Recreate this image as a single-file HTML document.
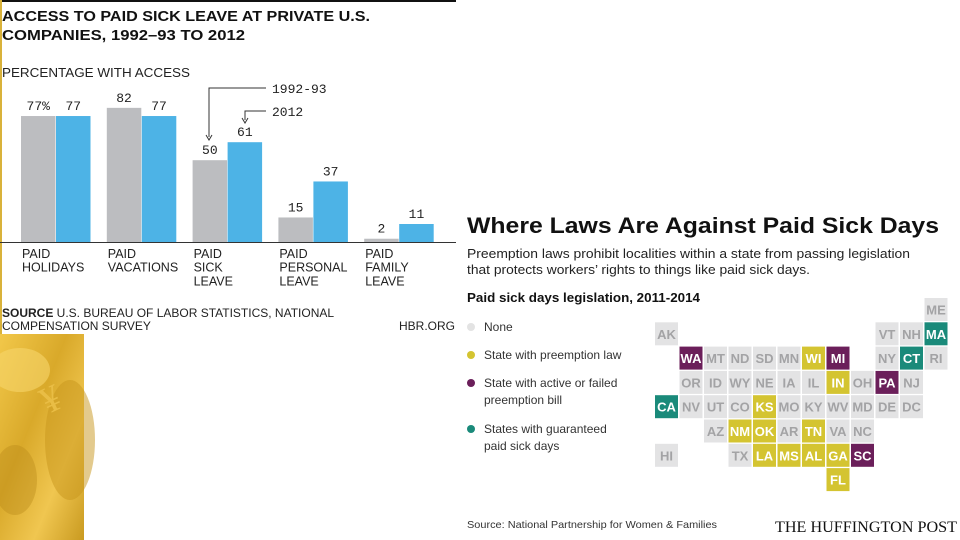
<!DOCTYPE html>
<html><head><meta charset="utf-8">
<style>
html,body{margin:0;padding:0;background:#fff;}
svg{display:block;font-family:"Liberation Sans",sans-serif;}
</style></head>
<body>
<svg id="root" width="960" height="540" viewBox="0 0 960 540">
  <defs>
    <linearGradient id="gold" x1="0" y1="0" x2="1" y2="1">
      <stop offset="0" stop-color="#f2c84a"/>
      <stop offset="0.4" stop-color="#d9a92a"/>
      <stop offset="0.7" stop-color="#f0c650"/>
      <stop offset="1" stop-color="#c99a20"/>
    </linearGradient>
  </defs>
  <!-- left chart -->
  <g>
    <rect x="0" y="0" width="456" height="2" fill="#111"/>
    <rect x="0" y="0" width="2" height="334" fill="#d9b23a"/>
    <text x="2" y="21" font-size="14.5" font-weight="bold" fill="#111" textLength="368" lengthAdjust="spacingAndGlyphs">ACCESS TO PAID SICK LEAVE AT PRIVATE U.S.</text>
    <text x="2" y="40" font-size="14.5" font-weight="bold" fill="#111" textLength="243" lengthAdjust="spacingAndGlyphs">COMPANIES, 1992–93 TO 2012</text>
    <text x="2" y="77" font-size="12.5" fill="#222" textLength="188" lengthAdjust="spacingAndGlyphs">PERCENTAGE WITH ACCESS</text>
    <g id="bars"></g>
    <line x1="0" y1="242.5" x2="456" y2="242.5" stroke="#333" stroke-width="1"/>
    <g id="cats"></g>
    <g fill="none" stroke="#333" stroke-width="1">
      <polyline points="266,88 209,88 209,137"/>
      <polyline points="266,111 245,111 245,120"/>
    </g>
    <path d="M206,135 L209,140 L212,135" fill="none" stroke="#333"/>
    <path d="M242,118 L245,123 L248,118" fill="none" stroke="#333"/>
    <text x="272" y="93" font-family="Liberation Mono,monospace" font-size="13" fill="#222">1992-93</text>
    <text x="272" y="116" font-family="Liberation Mono,monospace" font-size="13" fill="#222">2012</text>
    <text x="2" y="317" font-size="12" fill="#222"><tspan font-weight="bold">SOURCE</tspan> U.S. BUREAU OF LABOR STATISTICS, NATIONAL</text>
    <text x="2" y="330" font-size="12" fill="#222">COMPENSATION SURVEY</text>
    <text x="455" y="330" font-size="12" fill="#222" text-anchor="end">HBR.ORG</text>
  </g>
  <!-- gold image -->
  <g>
    <rect x="0" y="334" width="84" height="206" fill="url(#gold)"/>
    <ellipse cx="20" cy="370" rx="30" ry="22" fill="#f7d56a" opacity="0.6"/>
    <ellipse cx="70" cy="440" rx="25" ry="60" fill="#c8961c" opacity="0.5"/>
    <ellipse cx="15" cy="480" rx="22" ry="35" fill="#b98a18" opacity="0.4"/>
    <text x="42" y="410" font-size="38" fill="#e9bd45" font-family="Liberation Serif,serif" transform="rotate(-25 55 400)">¥</text>
  </g>
  <!-- right infographic -->
  <g>
    <text x="467" y="233" font-size="22" font-weight="bold" fill="#111" textLength="472" lengthAdjust="spacingAndGlyphs">Where Laws Are Against Paid Sick Days</text>
    <text x="467" y="258" font-size="13" fill="#222" textLength="443" lengthAdjust="spacingAndGlyphs">Preemption laws prohibit localities within a state from passing legislation</text>
    <text x="467" y="274" font-size="13" fill="#222" textLength="343" lengthAdjust="spacingAndGlyphs">that protects workers’ rights to things like paid sick days.</text>
    <text x="467" y="302" font-size="12.5" font-weight="bold" fill="#111" textLength="233" lengthAdjust="spacingAndGlyphs">Paid sick days legislation, 2011-2014</text>
    <g><circle cx="471" cy="327" r="4" fill="#e3e3e3"/><text x="484" y="331" font-size="12" fill="#333">None</text></g>
    <g><circle cx="471" cy="355" r="4" fill="#d4c431"/><text x="484" y="359" font-size="12" fill="#333">State with preemption law</text></g>
    <g><circle cx="471" cy="383" r="4" fill="#6b1f5a"/><text x="484" y="387" font-size="12" fill="#333">State with active or failed</text><text x="484" y="404" font-size="12" fill="#333">preemption bill</text></g>
    <g><circle cx="471" cy="429" r="4" fill="#1a8a7a"/><text x="484" y="433" font-size="12" fill="#333">States with guaranteed</text><text x="484" y="450" font-size="12" fill="#333">paid sick days</text></g>
    <g id="tiles"></g>
    <text x="467" y="528" font-size="10.5" fill="#333" textLength="250" lengthAdjust="spacingAndGlyphs">Source: National Partnership for Women &amp; Families</text>
    <text x="775" y="532" font-size="16" font-family="Liberation Serif,serif" fill="#111" textLength="182" lengthAdjust="spacingAndGlyphs">THE HUFFINGTON POST</text>
  </g>
</svg>
<script>
const categories = ["PAID|HOLIDAYS","PAID|VACATIONS","PAID|SICK|LEAVE","PAID|PERSONAL|LEAVE","PAID|FAMILY|LEAVE"];
const values1992 = [77, 82, 50, 15, 2];
const values2012 = [77, 77, 61, 37, 11];
const labels1992 = ["77%", "82", "50", "15", "2"];
const labels2012 = ["77", "77", "61", "37", "11"];

const NS = "http://www.w3.org/2000/svg";
const baseY = 242, pxPer = 1.636, x0 = 21, groupStep = 85.8, barW = 34.5;
const yScale = v => baseY - v * pxPer;
const xGroup = i => x0 + i * groupStep;
function mk(tag, attrs, parent){const e=document.createElementNS(NS,tag);for(const k in attrs)e.setAttribute(k,attrs[k]);parent.appendChild(e);return e;}
const bars = document.getElementById("bars");
const cats = document.getElementById("cats");
categories.forEach((c,i)=>{
  const gx = xGroup(i);
  const b1 = mk("rect",{x:gx,y:yScale(values1992[i]),width:barW,height:baseY-yScale(values1992[i]),fill:"#bcbdc0"},bars);
  
  
  const b2 = mk("rect",{x:gx+barW+0.5,y:yScale(values2012[i]),width:barW,height:baseY-yScale(values2012[i]),fill:"#4db3e6"},bars);
  
  
  const t1 = mk("text",{x:gx+barW/2,y:yScale(values1992[i])-6,"text-anchor":"middle","font-size":"13","font-family":"Liberation Mono,monospace",fill:"#222"},bars);
  t1.textContent = labels1992[i];
  
  
  const t2 = mk("text",{x:gx+barW*1.5+0.5,y:yScale(values2012[i])-6,"text-anchor":"middle","font-size":"13","font-family":"Liberation Mono,monospace",fill:"#222"},bars);
  t2.textContent = labels2012[i];
  
  
  const lines = c.split("|");
  const t = mk("text",{"font-size":"12.5",fill:"#222"},cats);
  
  
  lines.forEach((l,j)=>{const s=mk("tspan",{x:gx+1,y:258+j*13.7},t);s.textContent=l;});
});

// tile map
const stateNames = ["ME","AK","VT","NH","MA","WA","MT","ND","SD","MN","WI","MI","NY","CT","RI","OR","ID","WY","NE","IA","IL","IN","OH","PA","NJ","CA","NV","UT","CO","KS","MO","KY","WV","MD","DE","DC","AZ","NM","OK","AR","TN","VA","NC","HI","TX","LA","MS","AL","GA","SC","FL"];
const stateCols = [11,0,9,10,11,1,2,3,4,5,6,7,9,10,11,1,2,3,4,5,6,7,8,9,10,0,1,2,3,4,5,6,7,8,9,10,2,3,4,5,6,7,8,0,3,4,5,6,7,8,7];
const stateRows = [0,1,1,1,1,2,2,2,2,2,2,2,2,2,2,3,3,3,3,3,3,3,3,3,3,4,4,4,4,4,4,4,4,4,4,4,5,5,5,5,5,5,5,6,6,6,6,6,6,6,7];
const stateStatus = {WA:"b",MI:"b",PA:"b",SC:"b",MA:"g",CT:"g",CA:"g",WI:"p",IN:"p",KS:"p",NM:"p",OK:"p",TN:"p",LA:"p",MS:"p",AL:"p",GA:"p",FL:"p"};
const fills = {n:"#e3e3e4",p:"#d4c431",b:"#6b1f5a",g:"#1a8a7a"};
const tiles = document.getElementById("tiles");
const mx0 = 655, my0 = 298, pitchX = 24.5, pitchY = 24.3, cell = 23;
stateNames.forEach((s,i)=>{
  const st = stateStatus[s] || "n";
  const x = mx0 + stateCols[i]*pitchX, y = my0 + stateRows[i]*pitchY;
  const g = mk("g",{},tiles);
  
  
  mk("rect",{x:x,y:y,width:cell,height:cell,fill:fills[st]},g);
  const t = mk("text",{x:x+cell/2,y:y+16.5,"text-anchor":"middle","font-size":"13","font-weight":"bold",fill:st==="n"?"#a3a3a5":"#fff"},g);
  t.textContent = s;
});
</script>
</body></html>
